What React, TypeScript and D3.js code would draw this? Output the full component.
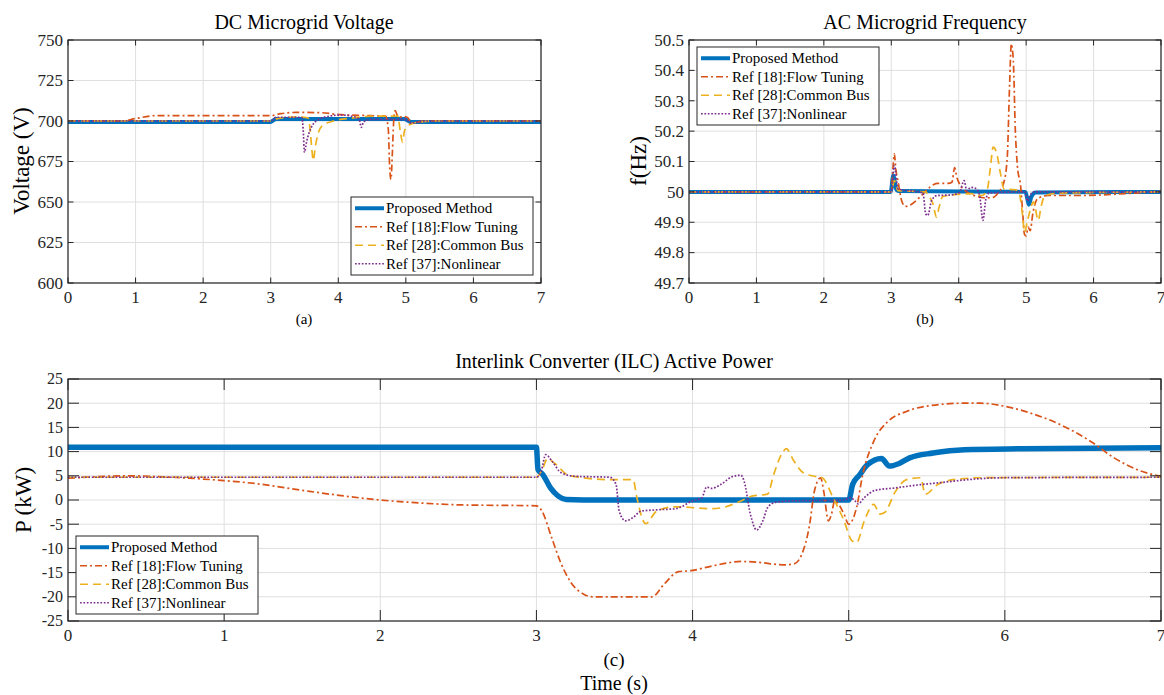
import React from 'react';
import * as d3 from 'd3';

type Pt = [number, number];

const timeTicks = [0, 1, 2, 3, 4, 5, 6, 7];
const voltTicks = [600, 625, 650, 675, 700, 725, 750];
const freqTicks = [49.7, 49.8, 49.9, 50, 50.1, 50.2, 50.3, 50.4, 50.5];
const powerTicks = [-25, -20, -15, -10, -5, 0, 5, 10, 15, 20, 25];

const seriesNames = ['Proposed Method', 'Ref [18]:Flow Tuning', 'Ref [28]:Common Bus', 'Ref [37]:Nonlinear'];

// (a) DC microgrid voltage, V
const dcProposed: Pt[] = [[0, 699.4], [3.0, 699.4], [3.04, 700.5], [3.08, 701.2], [4.98, 701.2], [5.04, 700], [5.08, 699.4], [7, 699.4]];
const dcFlow: Pt[] = [[0, 700], [0.8, 700], [1.0, 701.5], [1.29, 703.3], [3.0, 703.3], [3.15, 704.5], [3.38, 705.3], [3.7, 705.2], [4.04, 703.9], [4.48, 703.3], [4.7, 703], [4.74, 695], [4.76, 672], [4.78, 664], [4.8, 680], [4.82, 700], [4.84, 706.4], [4.89, 702.3], [4.97, 702.7], [5.03, 702], [5.08, 698.6], [5.19, 699.5], [5.3, 700], [7, 700]];
const dcCommon: Pt[] = [[0, 700], [3.0, 700], [3.1, 701.5], [3.38, 702.5], [3.55, 702], [3.58, 696], [3.61, 682], [3.63, 675.6], [3.66, 684], [3.7, 692], [3.76, 697], [3.93, 700], [4.2, 701.8], [4.5, 703], [4.88, 703], [4.92, 693], [4.95, 687], [4.98, 694], [5.03, 697], [5.11, 698.6], [5.25, 699.6], [5.4, 700], [7, 700]];
const dcNonlinear: Pt[] = [[0, 700], [3.0, 700], [3.08, 702.3], [3.46, 702.3], [3.48, 695], [3.5, 680.7], [3.53, 687], [3.6, 696], [3.71, 701], [3.87, 703], [4.04, 703.7], [4.26, 702.3], [4.31, 701], [4.34, 696], [4.37, 699], [4.42, 700.5], [4.5, 701], [5.0, 701], [5.08, 698.6], [5.19, 699.5], [5.3, 700], [7, 700]];

// (b) AC microgrid frequency, Hz
const acProposed: Pt[] = [[0, 50], [2.99, 50], [3.03, 50.054], [3.07, 50.01], [3.1, 50.003], [4.99, 50], [5.02, 49.975], [5.04, 49.958], [5.08, 49.985], [5.14, 49.998], [7, 50]];
const acFlow: Pt[] = [[0, 50], [3.0, 50], [3.025, 50.08], [3.045, 50.125], [3.07, 50.07], [3.1, 50.035], [3.155, 49.97], [3.21, 49.952], [3.29, 49.958], [3.43, 49.984], [3.57, 50.015], [3.68, 50.028], [3.84, 50.028], [3.9, 50.032], [3.94, 50.08], [3.97, 50.05], [4.0, 50.032], [4.12, 50.0], [4.23, 49.988], [4.4, 49.98], [4.51, 49.982], [4.59, 49.999], [4.67, 50.032], [4.72, 50.114], [4.755, 50.356], [4.78, 50.487], [4.81, 50.43], [4.84, 50.2], [4.87, 50.086], [4.92, 50.015], [4.95, 49.928], [4.975, 49.86], [5.0, 49.855], [5.03, 49.884], [5.06, 49.872], [5.1, 49.93], [5.17, 49.978], [5.33, 49.988], [5.83, 49.988], [6.38, 49.993], [7, 50.002]];
const acCommon: Pt[] = [[0, 50], [3.0, 50], [3.045, 50.037], [3.1, 50.004], [3.51, 50], [3.55, 49.988], [3.62, 49.96], [3.67, 49.917], [3.71, 49.95], [3.76, 49.984], [3.9, 49.99], [4.18, 49.994], [4.34, 49.988], [4.42, 50.004], [4.47, 50.08], [4.51, 50.147], [4.56, 50.13], [4.62, 50.06], [4.67, 50.01], [4.84, 50.007], [4.89, 50.0], [4.95, 49.917], [4.975, 49.867], [5.02, 49.905], [5.06, 49.94], [5.11, 49.967], [5.18, 49.906], [5.22, 49.95], [5.28, 49.988], [5.5, 49.996], [7, 50]];
const acNonlinear: Pt[] = [[0, 50], [3.0, 50], [3.045, 50.087], [3.1, 50.01], [3.47, 49.997], [3.51, 49.928], [3.54, 49.922], [3.6, 49.973], [3.68, 49.988], [3.9, 49.99], [4.01, 49.998], [4.08, 50.037], [4.12, 50.004], [4.18, 50.015], [4.26, 50.01], [4.31, 49.988], [4.36, 49.906], [4.4, 49.973], [4.45, 49.996], [4.98, 50.0], [5.02, 49.97], [5.06, 49.99], [5.12, 50.0], [7, 50]];

// (c) ILC active power, kW
const ilcProposed: Pt[] = [[0, 10.9], [3.0, 10.9], [3.01, 6.3], [3.04, 5.3], [3.09, 2.5], [3.14, 0.8], [3.19, 0.1], [3.3, 0], [5.0, 0], [5.025, 3.2], [5.07, 5.2], [5.12, 7.3], [5.21, 8.6], [5.26, 7.0], [5.32, 7.5], [5.39, 8.7], [5.54, 9.7], [5.74, 10.4], [6.11, 10.6], [7, 10.8]];
const ilcFlow: Pt[] = [[0, 4.5], [0.4, 5.0], [0.6, 4.8], [1.0, 4.0], [1.2, 3.4], [1.5, 2.0], [1.75, 0.9], [2.0, 0], [2.25, -0.6], [2.5, -1.0], [3.0, -1.2], [3.03, -2], [3.1, -8], [3.15, -12.5], [3.22, -17], [3.3, -19.4], [3.36, -20], [3.74, -20], [3.82, -17.3], [3.91, -14.8], [3.99, -14.6], [4.13, -13.6], [4.31, -12.7], [4.43, -12.9], [4.58, -13.4], [4.65, -13.2], [4.7, -11.2], [4.75, -5], [4.78, 1.8], [4.82, 4.6], [4.84, 1.8], [4.87, -4.3], [4.89, -2.9], [4.91, -0.2], [4.97, -2.9], [5.0, -5], [5.05, -1.6], [5.09, 5.3], [5.16, 12.1], [5.25, 16.2], [5.37, 18.3], [5.52, 19.5], [5.74, 20], [5.84, 20], [6.01, 19.3], [6.16, 18], [6.36, 15.5], [6.55, 12.1], [6.7, 8.7], [6.87, 6], [7, 4.9]];
const ilcCommon: Pt[] = [[0, 4.7], [3.0, 4.7], [3.04, 6.5], [3.07, 8.5], [3.12, 7.5], [3.2, 5.2], [3.3, 4.6], [3.47, 4.2], [3.62, 4.2], [3.64, 1], [3.7, -4.9], [3.77, -2.3], [3.89, -1.4], [4.13, -1.8], [4.2, -1.5], [4.31, -0.2], [4.38, 0.8], [4.48, 1.2], [4.52, 5.3], [4.58, 10], [4.6, 10.6], [4.65, 8], [4.71, 5.6], [4.78, 4.9], [4.83, 4.6], [4.9, 0.5], [4.97, -4.3], [5.02, -8.4], [5.05, -8.8], [5.1, -4.3], [5.16, -0.9], [5.2, -2.9], [5.23, -2.6], [5.3, 1.8], [5.37, 4.2], [5.46, 4.6], [5.49, 1.2], [5.57, 3.2], [5.67, 4.2], [5.86, 4.6], [7, 4.7]];
const ilcNonlinear: Pt[] = [[0, 4.7], [3.0, 4.7], [3.03, 5.9], [3.06, 9.4], [3.1, 8], [3.16, 5.6], [3.25, 4.9], [3.47, 4.7], [3.51, 3.2], [3.53, -2.3], [3.57, -4.3], [3.62, -3.6], [3.67, -2.3], [3.79, -2], [3.89, -1.8], [4.0, -0.2], [4.06, 0.5], [4.09, 2.7], [4.12, 2.4], [4.18, 3.2], [4.26, 4.9], [4.31, 5.1], [4.33, 3.9], [4.37, -2.9], [4.41, -6.2], [4.45, -4.3], [4.48, -1.6], [4.53, -0.5], [4.63, -0.2], [4.97, 0], [5.01, 0.5], [5.04, -0.2], [5.06, -0.8], [5.1, 0.5], [5.17, 2], [5.3, 2.5], [5.44, 3.1], [5.59, 3.6], [5.76, 4.2], [5.99, 4.6], [7, 4.7]];

const FONT = '"Liberation Serif", "Times New Roman", serif';
const INK = '#262626';
const GRID = '#dfdfdf';

// matlab default line order
const styles = [
  { color: '#0072BD', width: 4, dash: undefined as string | undefined },
  { color: '#D95319', width: 1.7, dash: '7,3,2,3' },
  { color: '#EDB120', width: 1.7, dash: '8,5' },
  { color: '#7E2F8E', width: 1.7, dash: '1.7,1.7' },
];

type PanelProps = {
  id: string;
  left: number; right: number; top: number; bottom: number;
  yDomain: [number, number];
  yTicks: number[];
  series: Pt[][];
  tickLen: number;
  blueWidth: number;
  legend: { x: number; y: number; w: number; h: number };
  yTickFont: number;
};

function Panel(p: PanelProps) {
  const x = d3.scaleLinear().domain([0, 7]).range([p.left, p.right]);
  const y = d3.scaleLinear().domain(p.yDomain).range([p.bottom, p.top]);
  const line = d3.line<Pt>().x(d => x(d[0])).y(d => y(d[1])).curve(d3.curveMonotoneX);
  const fmt = (v: number) => String(+v.toFixed(2));
  const rowH = (p.legend.h - 4) / 4;

  return (
    <g>
      <defs>
        <clipPath id={p.id}>
          <rect x={p.left} y={p.top} width={p.right - p.left} height={p.bottom - p.top} />
        </clipPath>
      </defs>
      <rect x={p.left} y={p.top} width={p.right - p.left} height={p.bottom - p.top} fill="#fff" />
      {timeTicks.map(t => (
        <line key={'gx' + t} x1={x(t)} x2={x(t)} y1={p.top} y2={p.bottom} stroke={GRID} strokeWidth={1} />
      ))}
      {p.yTicks.map(v => (
        <line key={'gy' + v} x1={p.left} x2={p.right} y1={y(v)} y2={y(v)} stroke={GRID} strokeWidth={1} />
      ))}
      <g clipPath={`url(#${p.id})`}>
        {p.series.map((s, i) => {
          const st = styles[i];
          return (
            <path key={i} d={line(s) || ''} fill="none" stroke={st.color}
              strokeWidth={i === 0 ? p.blueWidth : st.width} strokeDasharray={st.dash} strokeLinejoin="round" />
          );
        })}
      </g>
      {timeTicks.map(t => (
        <g key={'tx' + t}>
          <line x1={x(t)} x2={x(t)} y1={p.bottom} y2={p.bottom - p.tickLen} stroke={INK} />
          <line x1={x(t)} x2={x(t)} y1={p.top} y2={p.top + p.tickLen} stroke={INK} />
          <text x={x(t)} y={p.bottom + 20} textAnchor="middle" fontSize={17} fill={INK}>{t}</text>
        </g>
      ))}
      {p.yTicks.map(v => (
        <g key={'ty' + v}>
          <line x1={p.left} x2={p.left + p.tickLen} y1={y(v)} y2={y(v)} stroke={INK} />
          <line x1={p.right} x2={p.right - p.tickLen} y1={y(v)} y2={y(v)} stroke={INK} />
          <text x={p.left - 5} y={y(v)} dy="0.34em" textAnchor="end" fontSize={p.yTickFont} fill={INK}>{fmt(v)}</text>
        </g>
      ))}
      <rect x={p.left} y={p.top} width={p.right - p.left} height={p.bottom - p.top} fill="none" stroke={INK} strokeWidth={1.2} />
      <g>
        <rect x={p.legend.x} y={p.legend.y} width={p.legend.w} height={p.legend.h} fill="#fff" stroke={INK} strokeWidth={1} />
        {seriesNames.map((name, i) => {
          const cy = p.legend.y + 2 + rowH * (i + 0.5);
          const st = styles[i];
          return (
            <g key={name}>
              <line x1={p.legend.x + 4} x2={p.legend.x + 33} y1={cy} y2={cy} stroke={st.color}
                strokeWidth={i === 0 ? 4 : st.width} strokeDasharray={st.dash} />
              <text x={p.legend.x + 35} y={cy} dy="0.33em" fontSize={15} fill="#000">{name}</text>
            </g>
          );
        })}
      </g>
    </g>
  );
}

export default function App() {
  return (
    <div style={{ position: 'absolute', left: 0, top: 0 }}>
      <svg width={1164} height={695} style={{ display: 'block', fontFamily: FONT, background: '#fff' }}>
        <text x={304} y={29} textAnchor="middle" fontSize={20} fill="#000">DC Microgrid Voltage</text>
        <text x={925} y={29} textAnchor="middle" fontSize={20} fill="#000">AC Microgrid Frequency</text>
        <text x={614} y={368} textAnchor="middle" fontSize={20} fill="#000">Interlink Converter (ILC) Active Power</text>

        <Panel id="clipA" left={68} right={541} top={40} bottom={283}
          yDomain={[600, 750]} yTicks={voltTicks} tickLen={5.5} blueWidth={4} yTickFont={17}
          series={[dcProposed, dcFlow, dcCommon, dcNonlinear]}
          legend={{ x: 351, y: 197, w: 182, h: 78 }} />
        <Panel id="clipB" left={689} right={1161} top={40} bottom={283}
          yDomain={[49.7, 50.5]} yTicks={freqTicks} tickLen={5.5} blueWidth={4} yTickFont={17}
          series={[acProposed, acFlow, acCommon, acNonlinear]}
          legend={{ x: 697, y: 47, w: 182, h: 78 }} />
        <Panel id="clipC" left={68} right={1161} top={379} bottom={621}
          yDomain={[-25, 25]} yTicks={powerTicks} tickLen={11} blueWidth={5.5} yTickFont={16}
          series={[ilcProposed, ilcFlow, ilcCommon, ilcNonlinear]}
          legend={{ x: 76, y: 536, w: 182, h: 78 }} />

        <text transform="translate(29,161) rotate(-90)" textAnchor="middle" fontSize={23} fill="#000">Voltage (V)</text>
        <text transform="translate(646,161) rotate(-90)" textAnchor="middle" fontSize={23} fill="#000">f(Hz)</text>
        <text transform="translate(31,500) rotate(-90)" textAnchor="middle" fontSize={23} fill="#000">P (kW)</text>

        <text x={304} y={324} textAnchor="middle" fontSize={15} fill="#000">(a)</text>
        <text x={925} y={324} textAnchor="middle" fontSize={15} fill="#000">(b)</text>
        <text x={614} y={666} textAnchor="middle" fontSize={19} fill="#000">(c)</text>
        <text x={614} y={690} textAnchor="middle" fontSize={20} fill="#000">Time (s)</text>
      </svg>
    </div>
  );
}
